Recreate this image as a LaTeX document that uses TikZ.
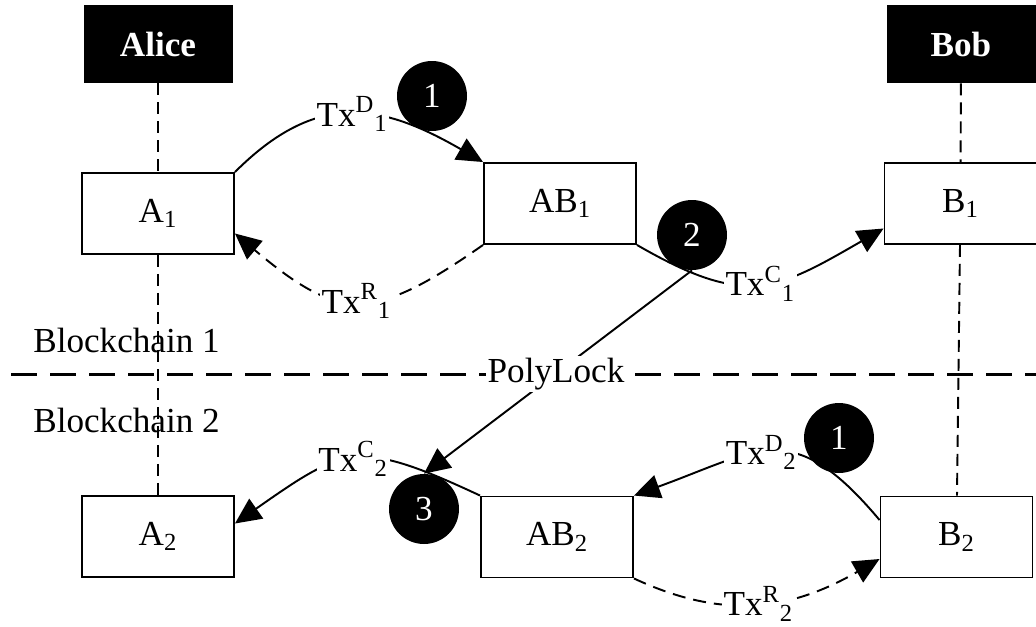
\documentclass[tikz,border=0pt]{standalone}
\usepackage{fontspec}
\setmainfont{Liberation Serif}
\usetikzlibrary{arrows.meta}
\begin{document}
\begin{tikzpicture}[
    font=\fontsize{20}{24}\selectfont,
    party/.style={fill=black,text=white,font=\fontsize{20}{24}\selectfont\bfseries,minimum width=2.98cm,minimum height=1.56cm},
    chain/.style={draw,line width=1.1pt,fill=white,minimum width=3.04cm,minimum height=1.62cm},
    stepnum/.style={circle,fill=black,text=white,minimum size=1.4cm,inner sep=0pt},
    life/.style={line width=1.1pt,dash pattern=on 0.24cm off 0.14cm},
    tx/.style={line width=1.1pt,-{Triangle[length=0.52cm,width=0.48cm]}},
    txback/.style={tx,dash pattern=on 0.26cm off 0.16cm},
    txlabel/.style={fill=white,inner sep=1pt}
  ]
  \useasboundingbox (0,0) rectangle (20.72,-12.52);

  \node[party] (alice) at (3.16,-0.88) {Alice};
  \node[party] (bob) at (19.22,-0.88) {Bob};
  \node[chain] (a1) at (3.16,-4.27) {A\textsubscript{1}};
  \node[chain] (ab1) at (11.2,-4.07) {AB\textsubscript{1}};
  \node[chain] (b1) at (19.21,-4.07) {B\textsubscript{1}};
  \node[chain] (a2) at (3.16,-10.73) {A\textsubscript{2}};
  \node[chain] (ab2) at (11.14,-10.74) {AB\textsubscript{2}};
  \node[chain] (b2) at (19.13,-10.74) {B\textsubscript{2}};

  \draw[life] (alice) -- (a1);
  \draw[life] (a1) -- (a2);
  \draw[life] (bob) -- (b1);
  \draw[life] (b1) -- (b2);

  \coordinate (sepL) at (0.22,-7.48);
  \coordinate (sepR) at (20.72,-7.48);
  \draw[line width=1.7pt,dash pattern=on 0.52cm off 0.26cm] (sepL) -- (sepR);
  \node[anchor=base west,inner sep=0pt] (chain1) at (0.66,-7.04) {Blockchain 1};
  \node[anchor=base west,inner sep=0pt] (chain2) at (0.66,-8.64) {Blockchain 2};

  \draw[tx] (a1.north east) to[out=45,in=150,looseness=1.2] node[txlabel] {Tx\textsuperscript{D}\textsubscript{1}} (ab1.north west);
  \draw[txback] (ab1.south west) to[out=215,in=-40,looseness=1.4] node[txlabel] {Tx\textsuperscript{R}\textsubscript{1}} ([yshift=-0.4cm]a1.east);
  \draw[tx] (ab1.south east) to[out=-30,in=210,looseness=1.3] node[txlabel] {Tx\textsuperscript{C}\textsubscript{1}} ([yshift=-0.5cm]b1.west);
  \draw[tx] (ab2.north west) to[out=155,in=35,looseness=1.4] node[txlabel] {Tx\textsuperscript{C}\textsubscript{2}} ([yshift=0.26cm]a2.east);
  \draw[tx] ([yshift=0.34cm]b2.west) to[out=130,in=20,looseness=1.4] node[txlabel,pos=0.55] {Tx\textsuperscript{D}\textsubscript{2}} (ab2.north east);
  \draw[txback] (ab2.south east) to[out=-25,in=210,looseness=1.05] node[txlabel] {Tx\textsuperscript{R}\textsubscript{2}} ([yshift=-0.44cm]b2.west);

  \node[stepnum] (s1a) at (8.64,-1.92) {1};
  \node[stepnum] (s2) at (13.84,-4.7) {2};
  \node[stepnum] (s3) at (8.48,-10.18) {3};
  \node[stepnum] (s1b) at (16.78,-8.76) {1};

  \draw[tx] (s2.south) -- (s3.north);
  \node[txlabel] (polylock) at (11.12,-7.48) {PolyLock};
\end{tikzpicture}
\end{document}
